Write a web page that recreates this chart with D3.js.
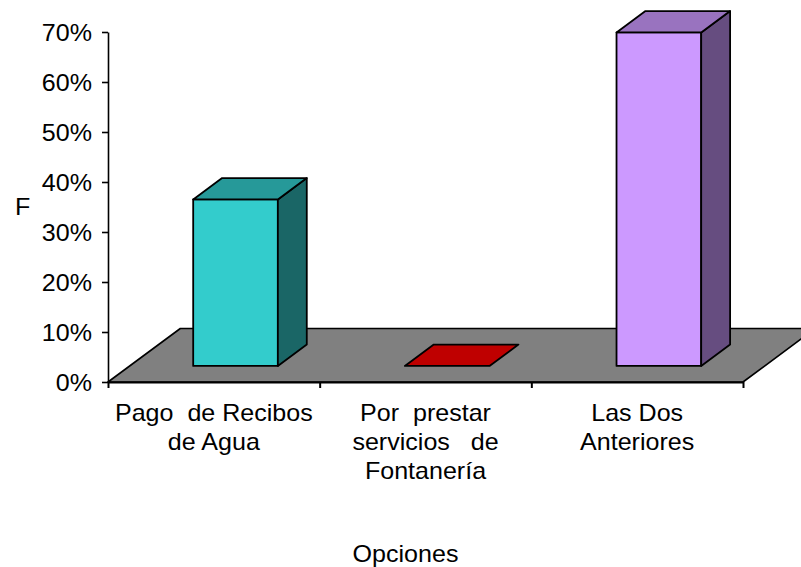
<!DOCTYPE html>
<html>
<head>
<meta charset="utf-8">
<script src="https://cdn.jsdelivr.net/npm/d3@7"></script>
<style>
  html, body { margin: 0; padding: 0; background: #fff; }
  svg { display: block; }
  text { font-family: "Liberation Sans", Arial, sans-serif; font-size: 23px; fill: #000; white-space: pre; }
</style>
</head>
<body>
<svg id="chart" width="801" height="567"></svg>
<script>
// Categories (each split into the lines shown under the floor)
const categories = ["Pago de Recibos de Agua", "Por prestar servicios de Fontanería", "Las Dos Anteriores"];
const categoryLines = [
  ["Pago  de Recibos", "de Agua"],
  ["Por  prestar", "servicios   de", "Fontanería"],
  ["Las Dos", "Anteriores"]
];
// Share of answers per option
const values = [0.333, 0, 0.667];
const barColors = ["#33CCCC", "#FF0000", "#CC99FF"];
// Value axis
const yTicks = [0, 0.1, 0.2, 0.3, 0.4, 0.5, 0.6, 0.7];
const yTitle = "F";
const xTitle = "Opciones";

const svg = d3.select("#chart");
const W = 801, H = 567;
const plot = { left: 108, right: 743, top: 32, bottom: 382 };
const depth = { dx: 72.3, dy: 53.5 };   // oblique offset of the floor's back edge
const textStretch = 1.09;

const x = d3.scaleBand().domain(categories).range([plot.left, plot.right]).padding(0);
const y = d3.scaleLinear().domain([0, 0.7]).range([plot.bottom, plot.top]);
const bw = x.bandwidth();

// oblique projection: screen x, value, depth fraction (0 = front, 1 = back)
const proj = (px, v, z) => [px + depth.dx * z, y(v) - depth.dy * z];
const poly = pts => "M" + pts.map(p => p.join(",")).join("L") + "Z";
const shade = (c, k) => { const r = d3.rgb(c); return d3.rgb(r.r * k, r.g * k, r.b * k).formatHex(); };

// floor
svg.append("path")
  .attr("d", poly([proj(plot.left, 0, 0), proj(plot.right, 0, 0), proj(plot.right, 0, 1), proj(plot.left, 0, 1)]))
  .attr("fill", "#808080").attr("stroke", "#000").attr("stroke-width", 1.6).attr("stroke-linejoin", "round");

// category axis (front edge of floor) with ticks on the category boundaries
const xb = d3.scaleLinear().domain([0, categories.length]).range([plot.left, plot.right]);
svg.append("g")
  .attr("transform", `translate(0,${plot.bottom})`)
  .call(d3.axisBottom(xb).tickValues(d3.range(categories.length + 1)).tickFormat("").tickSize(6).tickSizeOuter(0))
  .call(g => g.selectAll("path,line").attr("stroke", "#000").attr("stroke-width", 2));

// value axis
svg.append("g")
  .attr("transform", `translate(${plot.left},0)`)
  .call(d3.axisLeft(y).tickValues(yTicks).tickFormat(d3.format(".0%")).tickSize(6).tickSizeOuter(0))
  .call(g => g.selectAll("path,line").attr("stroke", "#000").attr("stroke-width", 1.6))
  .call(g => g.selectAll("text")
    .attr("x", null).attr("dy", null)
    .attr("font-family", null).attr("font-size", null)
    .attr("text-anchor", "end")
    .attr("transform", `translate(-16,8.3) scale(${textStretch},1)`));

// 3D bars
const z0 = 0.3, z1 = 0.7;
const bars = svg.append("g");
categories.forEach((c, i) => {
  const v = values[i];
  const x0 = x(c) + 0.3 * bw, x1 = x0 + 0.4 * bw;
  const g = bars.append("g").attr("stroke", "#000").attr("stroke-width", 1.8).attr("stroke-linejoin", "round");
  if (v > 0) {
    g.append("path").attr("fill", barColors[i])
      .attr("d", poly([proj(x0, 0, z0), proj(x1, 0, z0), proj(x1, v, z0), proj(x0, v, z0)]));
    g.append("path").attr("fill", shade(barColors[i], 0.5))
      .attr("d", poly([proj(x1, 0, z0), proj(x1, 0, z1), proj(x1, v, z1), proj(x1, v, z0)]));
  }
  g.append("path").attr("fill", shade(barColors[i], 0.75))
    .attr("d", poly([proj(x0, v, z0), proj(x1, v, z0), proj(x1, v, z1), proj(x0, v, z1)]));
});

// category labels
categories.forEach((c, i) => {
  const cx = x(c) + bw / 2;
  categoryLines[i].forEach((line, j) => {
    svg.append("text")
      .attr("text-anchor", "middle")
      .attr("transform", `translate(${cx},${420.5 + j * 29}) scale(${textStretch},1)`)
      .text(line);
  });
});

// axis titles
svg.append("text").attr("transform", `translate(15,215) scale(${textStretch},1)`).text(yTitle);
svg.append("text").attr("text-anchor", "middle")
  .attr("transform", `translate(405.5,561.5) scale(${textStretch},1)`).text(xTitle);
</script>
</body>
</html>
